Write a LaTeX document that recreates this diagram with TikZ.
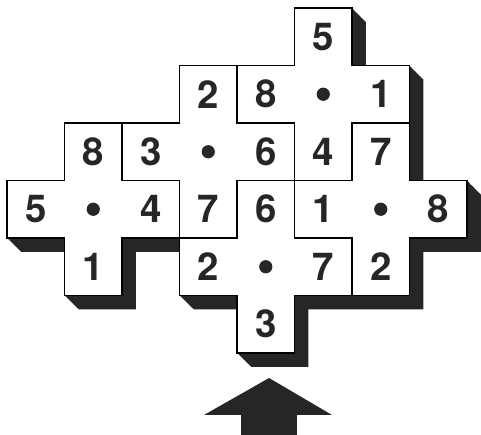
\documentclass[tikz,border=0pt]{standalone}
\usepackage{fontspec}
\setmainfont{TeX Gyre Heros}

% contour d'une croix de 5 cases, case centrale en (#1,#2)
\newcommand{\croix}[2]{(#1,#2-1)--(#1+1,#2-1)--(#1+1,#2)--(#1+2,#2)--(#1+2,#2+1)--(#1+1,#2+1)--(#1+1,#2+2)--(#1,#2+2)--(#1,#2+1)--(#1-1,#2+1)--(#1-1,#2)--(#1,#2)--cycle}

\tikzset{chiffre/.style={font=\fontsize{19}{22}\selectfont\bfseries,inner sep=0pt}}

\begin{document}
\begin{tikzpicture}[x=1cm,y=1cm]
		\useasboundingbox (-0.122,-1.426) rectangle (8.243,6.139);
		
		% ombre en relief
		\foreach \s in {0.01,0.02,...,0.25}{
			\foreach \cx/\cy in {5/4,3/3,1/2,6/2,4/1}{
				\fill[black!85,shift={(\s,-\s)}] \croix{\cx}{\cy}; }}
		
		% les cinq croix
		\foreach \cx/\cy in {5/4,3/3,1/2,6/2,4/1}{
			\filldraw[fill=white,line width=.7pt] \croix{\cx}{\cy};
			\fill[black!85] (\cx+.5,\cy+.5) circle (.115); }
		
		\foreach \c/\r/\t in {5/5/5,3/4/2,4/4/8,6/4/1,1/3/8,2/3/3,4/3/6,5/3/4,6/3/7,0/2/5,2/2/4,3/2/7,4/2/6,5/2/1,7/2/8,1/1/1,3/1/2,5/1/7,6/1/2,4/0/3}{
			\node[chiffre,text=black!85] (n\c\r) at (\c+.5,\r+.5) {\t}; }
		
		% fleche
		\fill[black!85] (4.07,-1.426)--(4.07,-1.078)--(3.426,-1.078)--(4.557,-0.435)--(5.652,-1.078)--(5.043,-1.078)--(5.043,-1.426)--cycle;
		
\end{tikzpicture}
\end{document}
